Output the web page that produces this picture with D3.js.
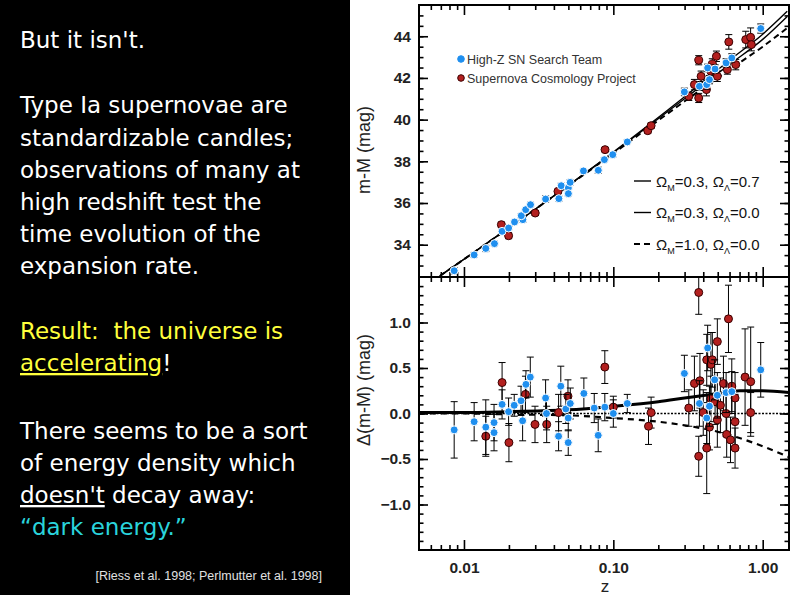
<!DOCTYPE html>
<html>
<head>
<meta charset="utf-8">
<script src="https://cdn.jsdelivr.net/npm/d3@7"></script>
<style>
  body { margin: 0; background: #fff; }
  svg { display: block; }
</style>
</head>
<body>
<div id="chart"></div>
<script>
// --- data ---
// top panel: distance modulus m-M
const hzTopZ  = [0.0086,0.0117,0.0140,0.0160,0.0180,0.0199,0.0218,0.0248,0.0242,0.0259,0.0279,0.0352,0.0432,0.0448,0.0500,0.0500,0.0514,0.0631,0.0793,0.0871,0.0991,0.124,0.299,0.377,0.422,0.428,0.440,0.480,0.569,0.621,0.970];
const hzTopMu = [32.75,33.51,33.82,34.05,34.64,34.80,35.09,35.20,35.39,35.68,35.92,36.19,36.21,36.83,36.72,36.45,36.99,37.54,37.57,38.08,38.32,38.93,41.33,41.60,41.68,42.48,41.92,42.43,42.72,42.96,44.37];
const hzTopErr = [0.15,0.12,0.15,0.12,0.10,0.10,0.10,0.12,0.10,0.10,0.12,0.15,0.12,0.12,0.10,0.12,0.12,0.10,0.15,0.10,0.12,0.10,0.18,0.20,0.22,0.18,0.20,0.20,0.20,0.20,0.22];

const scpTopZ  = [0.0178,0.0199,0.0300,0.0426,0.0880,0.170,0.179,0.320,0.349,0.373,0.373,0.387,0.420,0.450,0.460,0.490,0.497,0.580,0.593,0.660,0.770,0.830,0.840];
const scpTopMu = [34.96,34.43,35.52,36.56,38.56,39.47,39.71,41.12,41.68,42.85,41.04,42.08,41.44,42.32,42.67,43.04,42.08,42.40,43.73,42.64,43.84,43.95,43.60];
const scpTopErr = [0.12,0.14,0.12,0.10,0.10,0.12,0.12,0.20,0.25,0.22,0.22,0.25,0.30,0.25,0.25,0.25,0.25,0.22,0.35,0.25,0.40,0.45,0.30];

// bottom panel: residuals Δ(m-M)
const hzBotZ = [0.0086,0.0117,0.0140,0.0159,0.0159,0.0180,0.0199,0.0217,0.0241,0.0247,0.0260,0.0278,0.0352,0.0357,0.0430,0.0445,0.0481,0.0499,0.0499,0.0515,0.0635,0.0745,0.0792,0.0877,0.100,0.124,0.299,0.377,0.422,0.428,0.440,0.477,0.497,0.569,0.621,0.970];
const hzBotD = [-0.18,-0.09,-0.15,-0.10,-0.21,0.10,0.02,0.09,0.14,-0.08,0.32,0.40,0.17,0.00,-0.25,0.30,0.05,-0.05,-0.32,0.11,0.22,0.06,-0.24,0.07,0.00,0.11,0.44,0.11,-0.05,0.72,0.08,0.37,0.20,0.23,0.24,0.48];
const hzBotErr = [0.31,0.21,0.30,0.20,0.20,0.16,0.15,0.12,0.16,0.22,0.15,0.22,0.20,0.18,0.16,0.22,0.16,0.14,0.14,0.17,0.17,0.16,0.18,0.15,0.15,0.10,0.20,0.25,0.28,0.25,0.22,0.22,0.25,0.22,0.22,0.30];

const scpBotZ = [0.0140,0.0180,0.0200,0.0258,0.0299,0.0358,0.0430,0.0497,0.0877,0.100,0.172,0.179,0.320,0.349,0.373,0.373,0.380,0.400,0.422,0.422,0.440,0.450,0.450,0.460,0.480,0.497,0.497,0.521,0.546,0.569,0.574,0.590,0.609,0.621,0.653,0.653,0.653,0.762,0.831,0.831];
const scpBotD = [-0.25,0.34,-0.32,0.21,-0.12,-0.12,0.01,0.19,0.51,0.07,-0.14,0.01,0.06,0.33,1.33,-0.47,0.36,0.01,0.59,-0.38,-0.15,0.54,0.16,0.59,0.13,0.79,-0.07,0.09,0.33,0.00,-0.23,1.04,-0.29,0.30,-0.09,-0.38,0.17,0.40,0.35,0.01];
const scpBotErr = [0.22,0.22,0.21,0.20,0.20,0.20,0.20,0.18,0.18,0.12,0.20,0.17,0.20,0.30,0.24,0.22,0.30,0.25,0.28,0.50,0.25,0.35,0.25,0.30,0.25,0.25,0.30,0.30,0.30,0.25,0.25,0.37,0.25,0.30,0.30,0.22,0.28,0.53,0.60,0.22];

// model curves
const modelTopZ = [0.0069,0.01,0.03,0.1,0.3,0.6,1.0,1.46];
const lambdaTop = [32.5,33.3,35.7,38.45,41.1,42.85,44.1,45.2];
const openTop   = [32.5,33.3,35.7,38.42,41.0,42.65,43.85,44.95];
const edsTop    = [32.5,33.3,35.7,38.38,40.88,42.4,43.5,44.4];

const modelBotZ = [0.005,0.01,0.02,0.05,0.1,0.2,0.3,0.5,0.7,1.0,1.5];
const lambdaBot = [0.01,0.01,0.02,0.04,0.08,0.13,0.17,0.22,0.25,0.25,0.23];
const openBot   = [0,0,0,0,0,0,0,0,0,0,0];
const edsBot    = [0,0,-0.01,-0.02,-0.05,-0.09,-0.13,-0.2,-0.27,-0.36,-0.48];

const topTicks = [34,36,38,40,42,44];
const botTicks = [-1.0,-0.5,0.0,0.5,1.0];
const xTicks = [0.01,0.1,1];
const xTickLabels = ["0.01","0.10","1.00"];

const legendSets = ["High-Z SN Search Team","Supernova Cosmology Project"];
const legendModels = [["0.3","0.7"],["0.3","0.0"],["1.0","0.0"]];

const W = 794, H = 595;
const svg = d3.select("#chart").append("svg").attr("width", W).attr("height", H);

// ---- left text panel ----
svg.append("rect").attr("x",0).attr("y",0).attr("width",350).attr("height",H).attr("fill","#000");

const txt = svg.append("g").attr("font-family","'DejaVu Sans', Verdana, sans-serif").attr("font-size",23);
const lines = [
  {y:48, parts:[{t:"But it isn't.", c:"#fff"}]},
  {y:113, parts:[{t:"Type Ia supernovae are", c:"#fff"}]},
  {y:146, parts:[{t:"standardizable candles;", c:"#fff"}]},
  {y:178, parts:[{t:"observations of many at", c:"#fff"}]},
  {y:210, parts:[{t:"high redshift test the", c:"#fff"}]},
  {y:242, parts:[{t:"time evolution of the", c:"#fff"}]},
  {y:274, parts:[{t:"expansion rate.", c:"#fff"}]},
  {y:339, parts:[{t:"Result:  the universe is", c:"#ffff3c"}]},
  {y:371, parts:[{t:"accelerating", c:"#ffff3c", u:true},{t:"!", c:"#fff"}]},
  {y:439, parts:[{t:"There seems to be a sort", c:"#fff"}]},
  {y:471, parts:[{t:"of energy density which", c:"#fff"}]},
  {y:503, parts:[{t:"doesn't", c:"#fff", u:true},{t:" decay away:", c:"#fff"}]},
  {y:535, parts:[{t:"\u201cdark energy.\u201d", c:"#2ad4dc"}]}
];
lines.forEach(l => {
  const t = txt.append("text").attr("x",20).attr("y",l.y).attr("xml:space","preserve").style("white-space","pre");
  l.parts.forEach(p => {
    const s = t.append("tspan").attr("fill", p.c).text(p.t);
    if (p.u) s.style("text-decoration","underline");
  });
});
svg.append("text").attr("x",322).attr("y",580).attr("text-anchor","end")
  .attr("font-family","'Liberation Sans', Arial, sans-serif").attr("font-size",12.5)
  .attr("fill","#e0e0e0").text("[Riess et al. 1998; Perlmutter et al. 1998]");

// ---- scales ----
const L = 419, R = 789, T1 = 5, B1 = 277, T2 = 277, B2 = 550;
const x = d3.scaleLog().domain([0.005, 1.5]).range([L, R]);
const yTop = d3.scaleLinear().domain([32.45, 45.5]).range([B1, T1]);
const yBot = d3.scaleLinear().domain([-1.5, 1.5]).range([B2, T2]);

const defs = svg.append("defs");
defs.append("clipPath").attr("id","clipTop").append("rect").attr("x",L).attr("y",T1).attr("width",R-L).attr("height",B1-T1);
defs.append("clipPath").attr("id","clipBot").append("rect").attr("x",L).attr("y",T2).attr("width",R-L).attr("height",B2-T2);

const minorX = [];
[0.001,0.01,0.1].forEach(d => { for (let k=2;k<=9;k++) { const v=k*d; if (v>0.005 && v<1.5) minorX.push(v); } });

const fontAxis = "'Liberation Sans', Arial, sans-serif";

function axisGroup(gen, tx, ty, labels) {
  const g = svg.append("g").attr("transform", `translate(${tx},${ty})`).call(gen);
  g.select(".domain").remove();
  g.selectAll(".tick line").attr("stroke","#000").attr("stroke-width",1.6);
  if (!labels) g.selectAll(".tick text").remove();
  else g.selectAll(".tick text").attr("font-family",fontAxis).attr("font-size",15.5)
        .attr("font-weight","bold").attr("fill","#222");
  return g;
}

function yMinor(lo, hi, step) {
  const out = [];
  for (let v = lo; v <= hi + 1e-9; v += step) out.push(+v.toFixed(3));
  return out;
}

// top panel axes
axisGroup(d3.axisLeft(yTop).tickValues(topTicks).tickSize(-9).tickPadding(8).tickFormat(d3.format("d")), L, 0, true);
axisGroup(d3.axisLeft(yTop).tickValues(yMinor(33,45,0.5)).tickSize(-4.5), L, 0, false);
axisGroup(d3.axisRight(yTop).tickValues(topTicks).tickSize(-9), R, 0, false);
axisGroup(d3.axisRight(yTop).tickValues(yMinor(33,45,0.5)).tickSize(-4.5), R, 0, false);
axisGroup(d3.axisTop(x).tickValues(xTicks).tickSize(-10), 0, T1, false);
axisGroup(d3.axisTop(x).tickValues(minorX).tickSize(-5), 0, T1, false);
axisGroup(d3.axisBottom(x).tickValues(xTicks).tickSize(-10), 0, B1, false);
axisGroup(d3.axisBottom(x).tickValues(minorX).tickSize(-5), 0, B1, false);

// bottom panel axes
axisGroup(d3.axisLeft(yBot).tickValues(botTicks).tickSize(-9).tickPadding(8).tickFormat(d3.format(".1f")), L, 0, true);
axisGroup(d3.axisLeft(yBot).tickValues(yMinor(-1.4,1.4,0.1)).tickSize(-4.5), L, 0, false);
axisGroup(d3.axisRight(yBot).tickValues(botTicks).tickSize(-9), R, 0, false);
axisGroup(d3.axisRight(yBot).tickValues(yMinor(-1.4,1.4,0.1)).tickSize(-4.5), R, 0, false);
axisGroup(d3.axisTop(x).tickValues(xTicks).tickSize(-10), 0, T2, false);
axisGroup(d3.axisTop(x).tickValues(minorX).tickSize(-5), 0, T2, false);
axisGroup(d3.axisBottom(x).tickValues(xTicks).tickSize(-10).tickPadding(12).tickFormat((d,i) => xTickLabels[i]), 0, B2, true);
axisGroup(d3.axisBottom(x).tickValues(minorX).tickSize(-5), 0, B2, false);

// frames
svg.append("rect").attr("x",L).attr("y",T1).attr("width",R-L).attr("height",B1-T1).attr("fill","none").attr("stroke","#000").attr("stroke-width",2);
svg.append("rect").attr("x",L).attr("y",T2).attr("width",R-L).attr("height",B2-T2).attr("fill","none").attr("stroke","#000").attr("stroke-width",2);

// axis titles
svg.append("text").attr("transform","translate(370,150) rotate(-90)").attr("text-anchor","middle")
  .attr("font-family",fontAxis).attr("font-size",18).attr("fill","#222").text("m-M (mag)");
svg.append("text").attr("transform","translate(370,390) rotate(-90)").attr("text-anchor","middle")
  .attr("font-family",fontAxis).attr("font-size",18).attr("fill","#222").text("\u0394(m-M) (mag)");
svg.append("text").attr("x",605).attr("y",592).attr("text-anchor","middle")
  .attr("font-family",fontAxis).attr("font-size",17).attr("fill","#222").text("z");

// ---- model curves ----
function curve(g, zs, vs, ys, width, dash) {
  g.append("path").datum(zs.map((z,i) => [z, vs[i]]))
    .attr("d", d3.line().x(d => x(d[0])).y(d => ys(d[1])).curve(d3.curveMonotoneX))
    .attr("fill","none").attr("stroke","#000").attr("stroke-width",width)
    .attr("stroke-dasharray", dash);
}
const topG = svg.append("g").attr("clip-path","url(#clipTop)");
const botG = svg.append("g").attr("clip-path","url(#clipBot)");

curve(topG, modelTopZ, lambdaTop, yTop, 1.4, null);
curve(topG, modelTopZ, openTop, yTop, 1.4, null);
curve(topG, modelTopZ, edsTop, yTop, 2, "6,4");

curve(botG, modelBotZ, openBot, yBot, 1.6, "2,1.5");
curve(botG, modelBotZ, edsBot, yBot, 2.2, "6,5");
curve(botG, modelBotZ, lambdaBot, yBot, 3, null);

// ---- data points ----
function points(g, zs, vs, es, ys, fill, stroke) {
  const data = zs.map((z,i) => ({z, v: vs[i], e: es[i]}));
  const eb = g.append("g").attr("stroke","#000").attr("stroke-width",1);
  data.forEach(d => {
    const px = x(d.z), y0 = ys(d.v - d.e), y1 = ys(d.v + d.e);
    eb.append("line").attr("x1",px).attr("x2",px).attr("y1",y0).attr("y2",y1);
    eb.append("line").attr("x1",px-3.5).attr("x2",px+3.5).attr("y1",y0).attr("y2",y0);
    eb.append("line").attr("x1",px-3.5).attr("x2",px+3.5).attr("y1",y1).attr("y2",y1);
  });
  g.append("g").selectAll("circle").data(data).enter().append("circle")
    .attr("cx", d => x(d.z)).attr("cy", d => ys(d.v)).attr("r", 4)
    .attr("fill", fill).attr("stroke", stroke).attr("stroke-width", 1);
}
points(topG, scpTopZ, scpTopMu, scpTopErr, yTop, "#b3201f", "#3a0000");
points(topG, hzTopZ, hzTopMu, hzTopErr, yTop, "#1f8fef", "#ffffff");
points(botG, scpBotZ, scpBotD, scpBotErr, yBot, "#b3201f", "#3a0000");
points(botG, hzBotZ, hzBotD, hzBotErr, yBot, "#1f8fef", "#ffffff");

// ---- legends ----
const lg = svg.append("g").attr("font-family",fontAxis).attr("font-size",12.5).attr("fill","#333");
const legColors = [["#1f8fef","#1f8fef"],["#b3201f","#3a0000"]];
legendSets.forEach((s,i) => {
  const yy = 59 + i*19;
  lg.append("circle").attr("cx",461).attr("cy",yy).attr("r",3.3).attr("fill",legColors[i][0]).attr("stroke",legColors[i][1]);
  lg.append("text").attr("x",467).attr("y",yy+4.5).text(s);
});

const mg = svg.append("g").attr("font-family",fontAxis).attr("font-size",15).attr("fill","#111");
const mStyles = [[1.4,null],[1.4,null],[2,"6,4"]];
legendModels.forEach((m,i) => {
  const yy = 181 + i*31.5;
  mg.append("line").attr("x1",634).attr("x2",651).attr("y1",yy).attr("y2",yy)
    .attr("stroke","#000").attr("stroke-width",mStyles[i][0]).attr("stroke-dasharray",mStyles[i][1]);
  const t = mg.append("text").attr("x",656).attr("y",yy+5.5);
  t.append("tspan").text("\u03A9");
  t.append("tspan").attr("font-size",9).attr("dy",4).text("M");
  t.append("tspan").attr("dy",-4).text("=" + m[0] + ", \u03A9");
  t.append("tspan").attr("font-size",9).attr("dy",4).text("\u039B");
  t.append("tspan").attr("dy",-4).text("=" + m[1]);
});
</script>
</body>
</html>
